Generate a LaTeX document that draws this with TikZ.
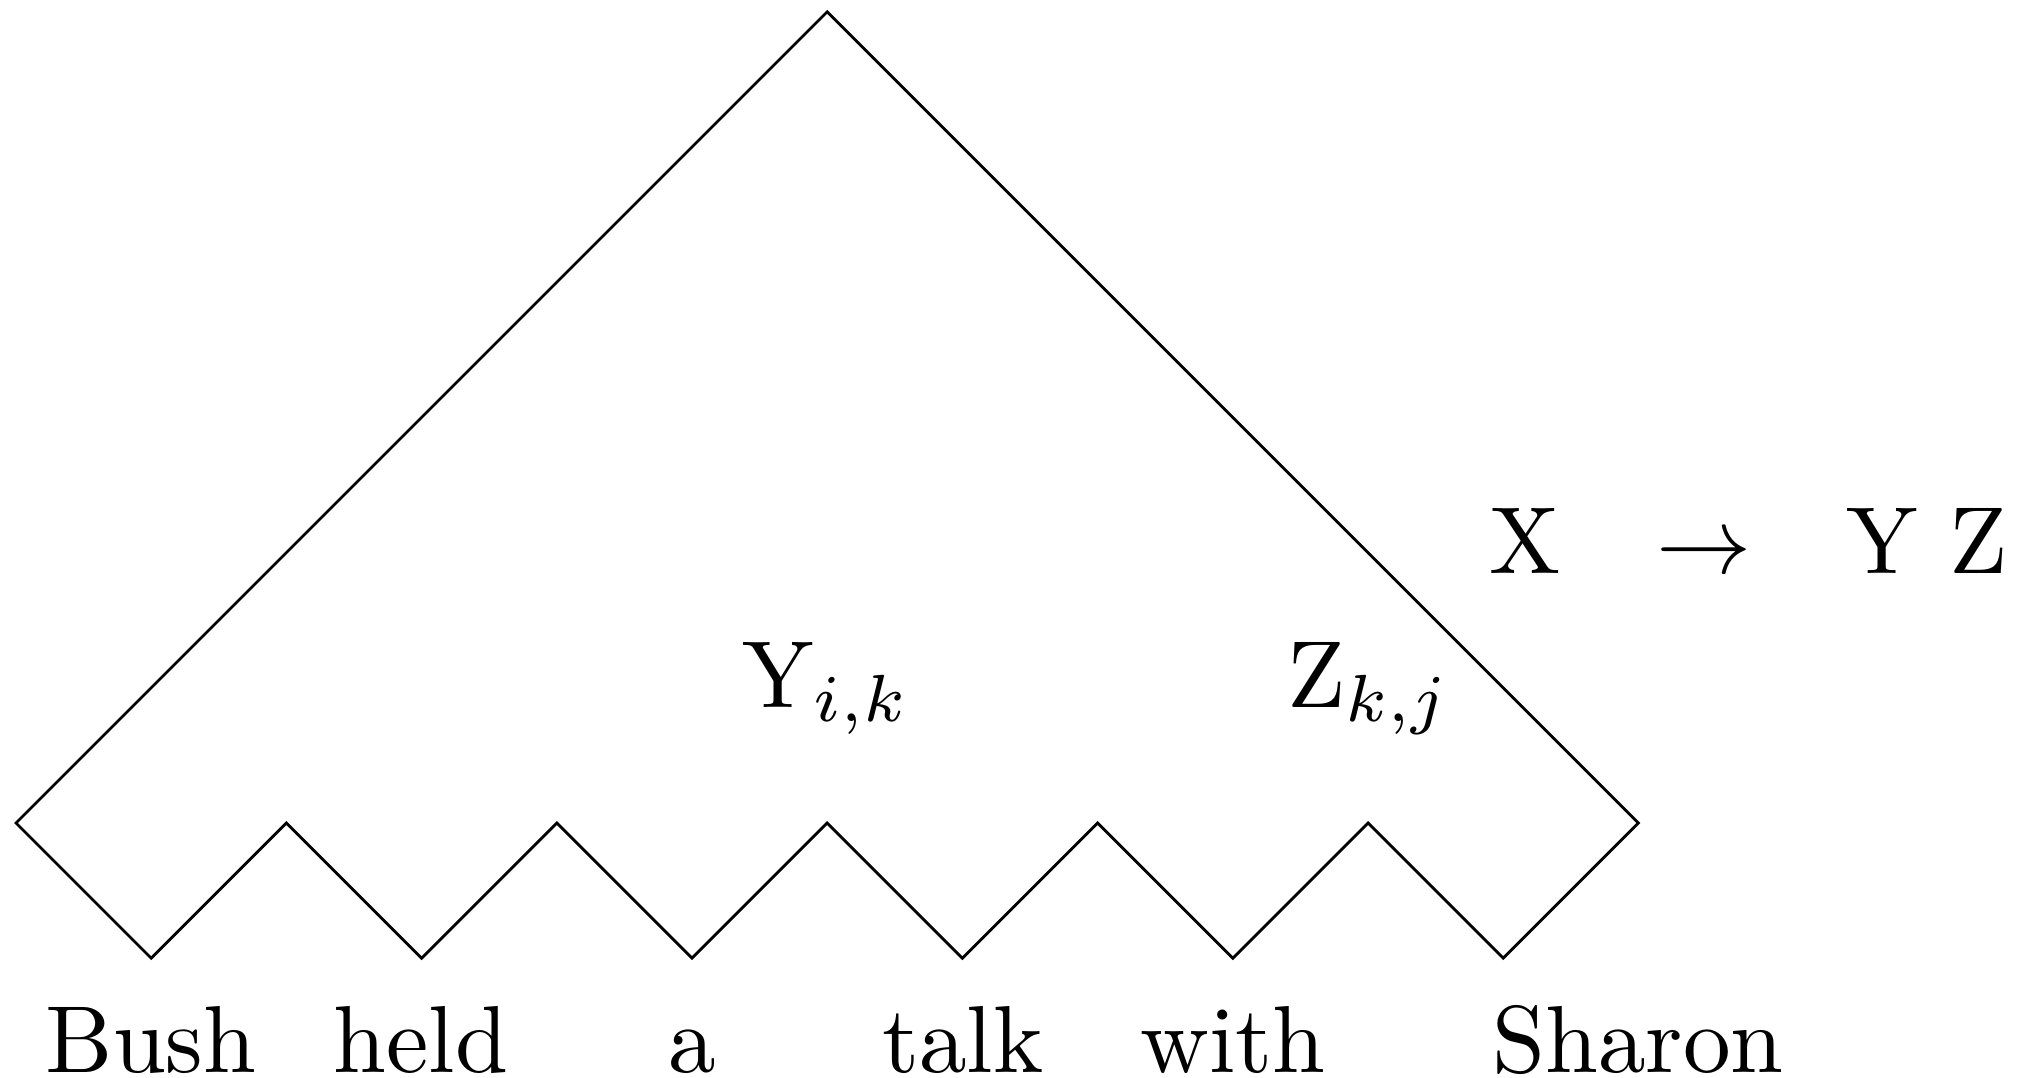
\documentclass[tikz,border=0pt]{standalone}
\begin{document}
\begin{tikzpicture}[x=0.25pt,y=-0.25pt,line width=0.7pt,
  txt/.style={anchor=base,inner sep=0pt,font=\normalsize,scale=2.38}]
\useasboundingbox (0,0) rectangle (2032,1078);
% outline corners
\coordinate (L) at (16,823);
\coordinate (A) at (827.2,11.8);
\coordinate (R) at (1638.4,823);
\coordinate (v1) at (151.2,958.2);
\coordinate (p1) at (286.4,823);
\coordinate (v2) at (421.6,958.2);
\coordinate (p2) at (556.8,823);
\coordinate (v3) at (692,958.2);
\coordinate (p3) at (827.2,823);
\coordinate (v4) at (962.4,958.2);
\coordinate (p4) at (1097.6,823);
\coordinate (v5) at (1232.8,958.2);
\coordinate (p5) at (1368,823);
\coordinate (v6) at (1503.2,958.2);
\draw (L) -- (A) -- (R) -- (v6) -- (p5) -- (v5) -- (p4) -- (v4) -- (p3) -- (v3) -- (p2) -- (v2) -- (p1) -- (v1) -- cycle;
% words
\node[txt] (w1) at (151,1072) {Bush};
\node[txt] (w2) at (421,1072) {held};
\node[txt] (w3) at (692,1072) {a};
\node[txt] (w4) at (963,1072) {talk};
\node[txt] (w5) at (1233,1072) {with};
\node[txt] (w6) at (1638,1072) {Sharon};
% span labels
\node[txt] (ylab) at (826,707) {Y$_{i,k}$};
\node[txt] (zlab) at (1369,707) {Z$_{k,j}$};
% rule
\node[txt] (rx) at (1525,574) {X};
\node[txt] (rarr) at (1704,574) {$\rightarrow$};
\node[txt] (ryz) at (1927,574) {Y Z};
\end{tikzpicture}
\end{document}
